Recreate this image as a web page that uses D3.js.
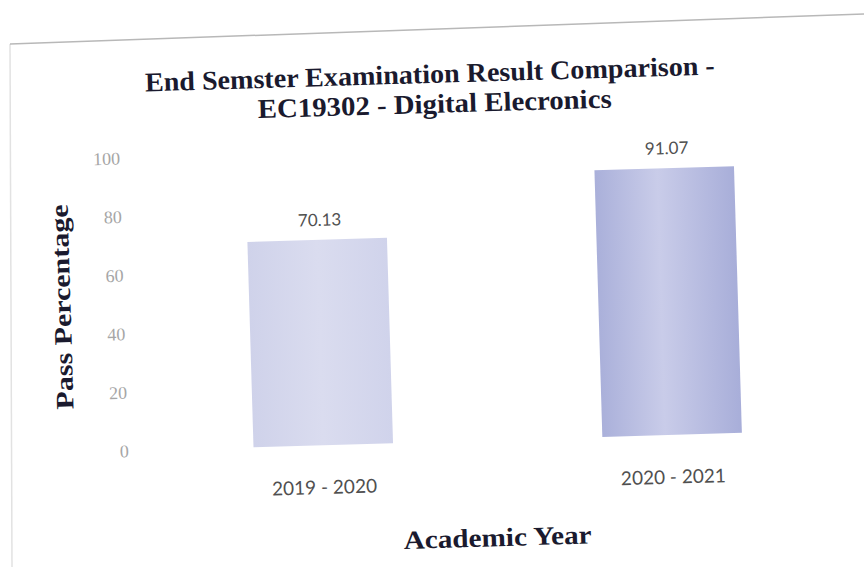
<!DOCTYPE html>
<html>
<head>
<meta charset="utf-8">
<script src="https://cdn.jsdelivr.net/npm/d3@7"></script>
<style>
  html, body { margin: 0; padding: 0; background: #fff; }
  svg { display: block; }
</style>
</head>
<body>
<script>
const categories = ["2019 - 2020", "2020 - 2021"];
const passPercentage = [70.13, 91.07];
const yTicks = [0, 20, 40, 60, 80, 100];
const titleLines = ["End Semster Examination Result Comparison -", "EC19302 - Digital Elecronics"];
const xTitle = "Academic Year";
const yTitle = "Pass Percentage";

const W = 864, H = 567;
const svg = d3.select("body").append("svg").attr("width", W).attr("height", H);

const defs = svg.append("defs");
const g1 = defs.append("linearGradient").attr("id", "bar0").attr("x1", "0").attr("x2", "1").attr("y1", "0").attr("y2", "0");
g1.append("stop").attr("offset", "0").attr("stop-color", "#cfd2ea");
g1.append("stop").attr("offset", "0.5").attr("stop-color", "#dadcef");
g1.append("stop").attr("offset", "1").attr("stop-color", "#d0d3eb");
const g2 = defs.append("linearGradient").attr("id", "bar1").attr("x1", "0").attr("x2", "1").attr("y1", "0").attr("y2", "0");
g2.append("stop").attr("offset", "0").attr("stop-color", "#aab0da");
g2.append("stop").attr("offset", "0.45").attr("stop-color", "#c9cce9");
g2.append("stop").attr("offset", "1").attr("stop-color", "#a8aed9");

// chart frame (scanned page edge)
svg.append("path").attr("d", "M12,567 L10,44").attr("fill", "none")
  .attr("stroke", "#e2e2e2").attr("stroke-width", 1.5);
svg.append("path").attr("d", "M10,44 L864,14").attr("fill", "none")
  .attr("stroke", "#b8b8b8").attr("stroke-width", 1.5);

const root = svg.append("g").attr("transform", "rotate(-1.7, 432, 283)");

const x = d3.scaleBand().domain(categories).range([144, 842]).paddingInner(0.6).paddingOuter(0.3);
const y = d3.scaleLinear().domain([0, 100]).range([442, 149]);

// bars
root.selectAll("rect.bar").data(passPercentage).enter().append("rect")
  .attr("class", "bar")
  .attr("x", (d, i) => x(categories[i]))
  .attr("width", x.bandwidth())
  .attr("y", d => y(d))
  .attr("height", d => y(0) - y(d))
  .attr("fill", (d, i) => `url(#bar${i})`);

// y axis labels
const yAxis = d3.axisLeft(y).tickValues(yTicks).tickSize(0).tickPadding(0);
const ya = root.append("g").attr("transform", "translate(124,0)").call(yAxis);
ya.select(".domain").remove();
ya.selectAll("text").attr("font-family", "Liberation Serif, serif").attr("font-size", 18).attr("fill", "#a6a6a6");

// x axis labels
const xAxis = d3.axisBottom(x).tickSize(0).tickPadding(0);
const xa = root.append("g").attr("transform", "translate(0,477)").call(xAxis);
xa.select(".domain").remove();
xa.selectAll("text").attr("font-family", "Lato, sans-serif").attr("font-size", 19).attr("fill", "#505050").attr("dy", "0.72em");

// data labels
root.selectAll("text.dl").data(passPercentage).enter().append("text")
  .attr("class", "dl")
  .attr("x", (d, i) => x(categories[i]) + x.bandwidth() / 2 + 3)
  .attr("y", d => y(d) - 14)
  .attr("text-anchor", "middle")
  .attr("font-family", "Lato, sans-serif").attr("font-size", 17).attr("fill", "#505050")
  .text(d => d.toFixed(2));

// title
root.append("text").attr("x", 436).attr("y", 83).attr("text-anchor", "middle")
  .attr("font-family", "Liberation Serif, serif").attr("font-weight", "bold").attr("font-size", 27)
  .attr("fill", "#1a1a2e").attr("textLength", 570).attr("lengthAdjust", "spacingAndGlyphs")
  .text(titleLines[0]);
root.append("text").attr("x", 440).attr("y", 113).attr("text-anchor", "middle")
  .attr("font-family", "Liberation Serif, serif").attr("font-weight", "bold").attr("font-size", 27)
  .attr("fill", "#1a1a2e").attr("textLength", 354).attr("lengthAdjust", "spacingAndGlyphs")
  .text(titleLines[1]);

// axis titles
root.append("text").attr("x", 490).attr("y", 548).attr("text-anchor", "middle")
  .attr("font-family", "Liberation Serif, serif").attr("font-weight", "bold").attr("font-size", 26)
  .attr("fill", "#1a1a2e").attr("textLength", 188).attr("lengthAdjust", "spacingAndGlyphs")
  .text(xTitle);
root.append("text").attr("transform", "translate(70,296) rotate(-90)").attr("text-anchor", "middle")
  .attr("font-family", "Liberation Serif, serif").attr("font-weight", "bold").attr("font-size", 25)
  .attr("fill", "#1a1a2e").attr("textLength", 205).attr("lengthAdjust", "spacingAndGlyphs")
  .text(yTitle);
</script>
</body>
</html>
